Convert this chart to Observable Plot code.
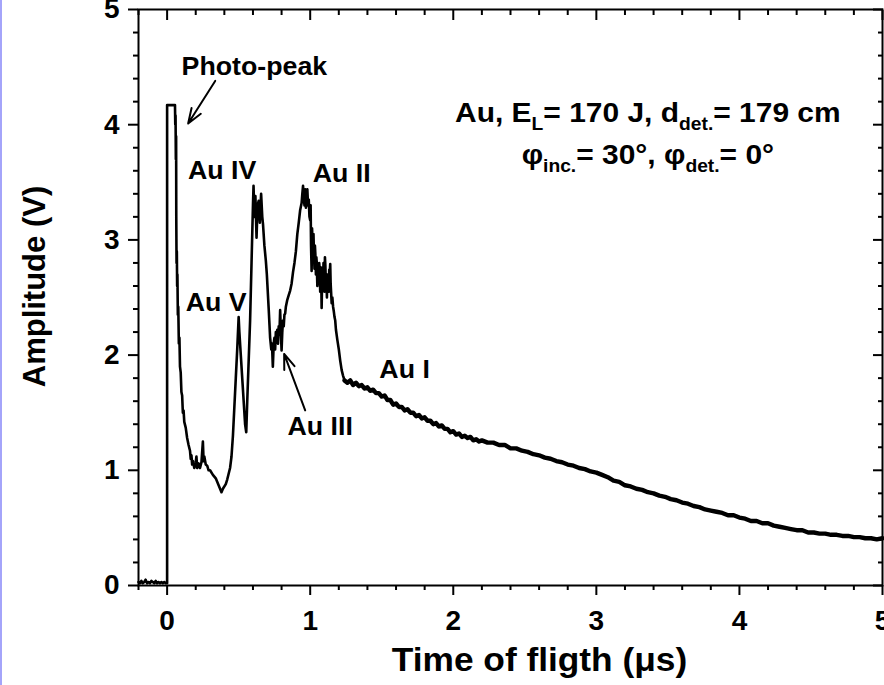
<!DOCTYPE html>
<html><head><meta charset="utf-8">
<script src="https://cdn.jsdelivr.net/npm/d3@7"></script>
<script src="https://cdn.jsdelivr.net/npm/@observablehq/plot@0.6"></script>
<style>
body{margin:0;background:#fff;}
#chart{position:absolute;left:0;top:0;}
#edge{position:absolute;left:0;top:0;width:2px;height:685px;background:#a4a4fa;}
</style></head><body><div id="chart"></div><div id="edge"></div>
<script>
// ---- data ----
const tEarly = [-0.2,-0.19,-0.18,-0.17,-0.16,-0.15,-0.14,-0.13,-0.12,-0.11,-0.10,-0.09,-0.08,-0.07,-0.06,-0.05,-0.04,-0.03,-0.02,-0.01,0,
  0,0.055,0.057,0.059,0.061,0.063,0.064,0.066,0.068,0.070,0.072,0.075,0.078,0.082,0.086,0.09,0.095,0.1,0.105,0.11,0.115,0.12,0.13,0.14,0.15,0.16,0.165,0.17,0.175,0.18,0.19,0.2,0.205,0.21,0.22,0.23,0.24,0.25,0.255,0.26,0.27,0.28,0.29,0.30,0.32,0.34,0.35,0.36,0.37,0.38,0.39,0.41,0.42,0.44,0.45,0.46,0.47,0.48,0.49,0.50,0.505,0.515,0.53,0.545,0.553,0.56,0.57,0.58,0.59,0.60,0.604,0.61,0.617,0.625,0.632,0.64,0.648,0.657,0.665,0.67,0.68,0.69,0.697,0.71,0.72,0.728,0.733,0.739,0.745,0.75,0.755,0.76,0.765,0.77,0.775,0.78,0.785,0.79,0.795,0.80,0.805,0.81,0.815,0.82,0.825,0.83,0.84,0.85,0.86,0.87,0.88,0.89,0.90,0.91,0.92,0.93,0.94,0.945,0.95,0.955,0.96,0.965,0.97,0.975,0.98,0.985,0.99,0.995,1.0,1.003,1.006,1.01,1.013,1.016,1.02,1.023,1.026,1.03,1.033,1.036,1.04,1.043,1.046,1.05,1.053,1.056,1.06,1.063,1.066,1.07,1.073,1.076,1.08,1.083,1.086,1.09,1.093,1.096,1.1,1.103,1.106,1.11,1.113,1.117,1.12,1.123,1.126,1.13,1.133,1.136,1.14,1.143,1.146,1.15,1.155,1.16,1.165,1.17,1.175,1.18,1.19,1.2,1.21,1.22,1.23,1.24];
const vEarly = [0.03,0.02,0.04,0.02,0.03,0.05,0.02,0.03,0.02,0.04,0.03,0.02,0.04,0.02,0.03,0.02,0.03,0.02,0.03,0.02,0.02,
  4.17,4.17,4.0,4.08,3.7,3.9,3.2,2.8,2.9,2.6,2.7,2.35,2.42,2.1,2.15,1.9,1.85,1.68,1.65,1.5,1.52,1.42,1.37,1.28,1.22,1.17,1.1,1.13,1.05,1.08,1.02,1.07,1.12,1.02,1.06,1.02,1.07,1.25,1.08,1.12,1.05,1.04,1.0,1.0,0.96,0.93,0.9,0.87,0.84,0.81,0.84,0.88,0.92,1.02,1.12,1.3,1.55,1.8,2.05,2.33,2.2,2.0,1.7,1.4,1.33,1.6,1.95,2.3,2.8,3.3,3.47,3.2,3.38,3.02,3.3,3.34,3.15,3.40,3.2,3.14,2.95,2.82,2.7,2.4,2.15,2.05,2.1,1.9,2.1,2.15,2.05,2.2,2.12,2.22,2.1,2.25,2.18,2.39,2.2,2.04,2.2,2.3,2.25,2.35,2.36,2.42,2.48,2.52,2.56,2.62,2.72,2.8,2.9,3.05,3.15,3.26,3.32,3.4,3.47,3.38,3.3,3.44,3.28,3.42,3.44,3.3,3.35,3.2,3.17,3.3,2.95,2.73,3.1,3.0,2.85,3.05,2.9,2.75,2.95,2.88,2.7,2.85,2.8,2.6,2.78,2.72,2.62,2.8,2.75,2.55,2.7,2.76,2.41,2.62,2.7,2.6,2.8,2.75,2.55,2.85,2.78,2.6,2.7,2.5,2.7,2.62,2.6,2.55,2.74,2.7,2.79,2.62,2.55,2.45,2.5,2.42,2.38,2.33,2.30,2.22,2.13,2.05,1.95,1.87,1.82,1.78];
const tTail = [1.24,1.26,1.28,1.30,1.32,1.34,1.36,1.38,1.40,1.42,1.44,1.46,1.48,1.50,1.52,1.54,1.56,1.58,1.60,1.62,1.64,1.66,1.68,1.70,1.72,1.74,1.76,1.78,1.80,1.82,1.84,1.86,1.88,1.90,1.92,1.94,1.96,1.98,2.00,2.02,2.04,2.06,2.08,2.10,2.12,2.14,2.16,2.18,2.20,2.24,2.28,2.32,2.36,2.40,2.44,2.48,2.52,2.56,2.60,2.64,2.68,2.72,2.76,2.80,2.84,2.88,2.92,2.96,3.00,3.04,3.08,3.12,3.16,3.20,3.24,3.28,3.32,3.36,3.40,3.44,3.48,3.52,3.56,3.60,3.64,3.68,3.72,3.76,3.80,3.84,3.88,3.92,3.96,4.00,4.04,4.08,4.12,4.16,4.20,4.24,4.28,4.32,4.36,4.40,4.44,4.48,4.52,4.56,4.60,4.64,4.68,4.72,4.76,4.80,4.84,4.88,4.92,4.96,5.00];
const vTail = [1.78,1.76,1.78,1.74,1.76,1.73,1.74,1.71,1.72,1.69,1.70,1.67,1.67,1.64,1.65,1.61,1.61,1.57,1.58,1.55,1.55,1.52,1.53,1.50,1.50,1.47,1.48,1.45,1.46,1.43,1.43,1.40,1.41,1.38,1.39,1.36,1.36,1.33,1.34,1.31,1.32,1.29,1.30,1.28,1.29,1.26,1.27,1.25,1.26,1.24,1.24,1.22,1.22,1.19,1.19,1.17,1.16,1.14,1.13,1.11,1.10,1.08,1.07,1.05,1.04,1.02,1.01,0.99,0.98,0.96,0.94,0.91,0.90,0.87,0.86,0.84,0.83,0.81,0.80,0.78,0.77,0.75,0.74,0.72,0.71,0.69,0.68,0.66,0.65,0.64,0.63,0.61,0.61,0.59,0.58,0.56,0.56,0.54,0.54,0.52,0.51,0.50,0.49,0.48,0.48,0.46,0.46,0.45,0.45,0.44,0.44,0.43,0.43,0.42,0.42,0.41,0.41,0.40,0.41];

const xMajor = [0,1,2,3,4,5];
const xMinor = [-0.2,0.2,0.4,0.6,0.8,1.2,1.4,1.6,1.8,2.2,2.4,2.6,2.8,3.2,3.4,3.6,3.8,4.2,4.4,4.6,4.8];
const yMajor = [0,1,2,3,4,5];
const yMinor = [0.2,0.4,0.6,0.8,1.2,1.4,1.6,1.8,2.2,2.4,2.6,2.8,3.2,3.4,3.6,3.8,4.2,4.4,4.6,4.8];

const peakLabels = ["Photo-peak","Au IV","Au V","Au II","Au III","Au I"];
const peakLabelX = [0.61,0.385,0.343,1.22,1.07,1.66];
const peakLabelY = [4.50,3.60,2.45,3.57,1.38,1.87];
const arrowX1 = [0.336,0.965], arrowY1 = [4.38,1.52];
const arrowX2 = [0.147,0.818], arrowY2 = [4.01,2.01];
const infoLines = ["INFO1","INFO2"];
const infoX = [3.36,3.36], infoY = [4.097,3.733];

const xTitle = "Time of fligth (\u03bcs)";
const yTitle = "Amplitude (V)";

// ---- build ----
const early = tEarly.map((t,i)=>({t, v:vEarly[i]}));
const tail = tTail.map((t,i)=>({t, v:vTail[i]}));
const labels = peakLabels.map((s,i)=>({s, x:peakLabelX[i], y:peakLabelY[i]}));
const arrows = arrowX1.map((x,i)=>({x1:x, y1:arrowY1[i], x2:arrowX2[i], y2:arrowY2[i]}));
const info = infoLines.map((s,i)=>({s, x:infoX[i], y:infoY[i]}));

const FONT = "'Liberation Sans', Arial, Helvetica, sans-serif";
const TICK_FS = 28;

const chart = Plot.plot({
  width: 884, height: 685,
  marginLeft: 138, marginRight: 2, marginTop: 9, marginBottom: 100,
  x: {domain: [-0.2, 5]},
  y: {domain: [0, 5]},
  style: {fontFamily: FONT, fontWeight: "bold", background: "white", color: "black", overflow: "hidden"},
  marks: [
    Plot.line(early, {x:"t", y:"v", stroke:"black", strokeWidth:2.6, strokeLinejoin:"round"}),
    Plot.line(tail, {x:"t", y:"v", stroke:"black", strokeWidth:4.4, strokeLinejoin:"round"}),
    Plot.frame({stroke:"black", strokeWidth:2}),
    Plot.axisX(xMajor, {anchor:"bottom", tickSize:10, tickPadding:15, strokeWidth:2, fontSize:TICK_FS, fontWeight:"bold", label:null, tickFormat:d=>String(d)}),
    Plot.axisX(xMinor, {anchor:"bottom", tickSize:5, strokeWidth:2, fill:"none", label:null}),
    Plot.axisX(xMajor, {anchor:"top", tickSize:10, dy:10, strokeWidth:2, fill:"none", label:null}),
    Plot.axisX(xMinor, {anchor:"top", tickSize:5, dy:5, strokeWidth:2, fill:"none", label:null}),
    Plot.axisY(yMajor, {anchor:"left", tickSize:10, tickPadding:9, strokeWidth:2, fontSize:TICK_FS, fontWeight:"bold", label:null, tickFormat:d=>String(d)}),
    Plot.axisY(yMinor, {anchor:"left", tickSize:5, strokeWidth:2, fill:"none", label:null}),
    Plot.axisY(yMajor, {anchor:"right", tickSize:10, dx:-10, strokeWidth:2, fill:"none", label:null}),
    Plot.axisY(yMinor, {anchor:"right", tickSize:5, dx:-5, strokeWidth:2, fill:"none", label:null}),
    Plot.text([xTitle], {frameAnchor:"bottom", text:d=>d, textAnchor:"middle", lineAnchor:"bottom", dx:29, dy:85, fontSize:33, fontWeight:"bold", fill:"black"}),
    Plot.text([yTitle], {frameAnchor:"left", text:d=>d, textAnchor:"middle", lineAnchor:"middle", rotate:-90, dx:-103, dy:-11, fontSize:31, fontWeight:"bold", fill:"black"}),
    Plot.text(labels, {x:"x", y:"y", text:"s", fontSize:25, fontWeight:"bold", fill:"black"}),
    Plot.arrow(arrows, {x1:"x1", y1:"y1", x2:"x2", y2:"y2", stroke:"black", strokeWidth:2, headLength:12, headAngle:40}),
    Plot.text(info, {x:"x", y:"y", text:"s", fontSize:28, fontWeight:"bold", fill:"black"})
  ]
});
document.getElementById("chart").appendChild(chart);

// subscripts for the info lines
const SUB = 18, SHIFT = 8;
function fill(node, parts){
  node.textContent = "";
  let shifted = false;
  for (const [txt, sub] of parts){
    const ts = document.createElementNS("http://www.w3.org/2000/svg","tspan");
    ts.textContent = txt;
    if (sub){ ts.setAttribute("font-size", SUB); ts.setAttribute("dy", SHIFT); shifted = true; }
    else if (shifted){ ts.setAttribute("dy", -SHIFT); shifted = false; }
    node.appendChild(ts);
  }
}
d3.select(chart).selectAll("text").each(function(){
  if (this.textContent === "INFO1") fill(this, [["Au, E",0],["L",1],["= 170 J, d",0],["det.",1],["= 179 cm",0]]);
  else if (this.textContent === "INFO2") fill(this, [["\u03c6",0],["inc.",1],["= 30\u00b0, \u03c6",0],["det.",1],["= 0\u00b0",0]]);
});
// the reference lettering is slightly wider than tall: stretch horizontal texts a little
d3.select(chart).selectAll("text").each(function(){
  const tr = this.getAttribute("transform") || "";
  if (tr.includes("rotate")) return;
  if (this.textContent.length > 1) this.setAttribute("transform", tr + " scale(1.07,1)");
});
</script>
</body></html>
